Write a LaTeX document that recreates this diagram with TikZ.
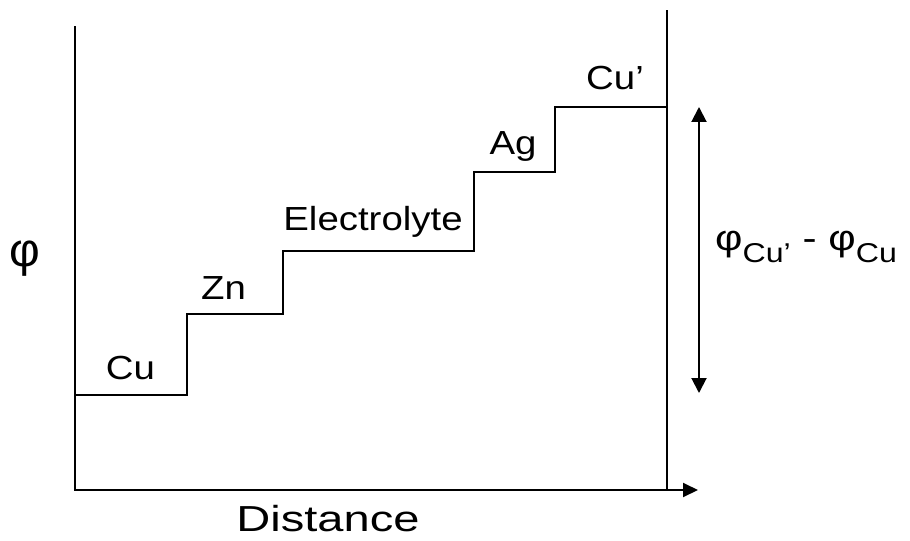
\documentclass[tikz,border=0pt]{standalone}
\usepackage{fontspec}
\setmainfont{Liberation Sans}
\usetikzlibrary{arrows.meta}
\tikzset{
  lvl/.style={anchor=base,inner sep=0pt,xscale=1.15,font=\fontsize{19}{22}\selectfont},
  tip/.style={-{Triangle[length=3mm,width=2.8mm]}},
  both/.style={{Triangle[length=3mm,width=3mm]}-{Triangle[length=3mm,width=3mm]}}
}
\begin{document}
\begin{tikzpicture}[x=0.02cm,y=-0.02cm,line width=1.13pt]
\useasboundingbox (0,0) rectangle (910,541);
\draw[tip] (75,26) -- (75,490) -- (698,490);
\draw (667,10) -- (667,490);
\draw (75,395) -- (187,395) -- (187,314) -- (283,314) -- (283,251)
  -- (474,251) -- (474,172) -- (555,172) -- (555,107) -- (667,107);
\coordinate (top) at (699,107);
\coordinate (bot) at (699,393);
\draw[both] (top) -- (bot);

\node[lvl] (cu) at (130.5,379) {Cu};
\node[lvl] (zn) at (223.5,299) {Zn};
\node[lvl] (el) at (373,230) {Electrolyte};
\node[lvl] (ag) at (513,154) {Ag};
\node[lvl] (cup) at (615,89) {Cu’};

\node[anchor=base,inner sep=0pt,xscale=1.0,font=\fontsize{27}{30}\selectfont] (phi) at (25,266) {φ};
\node[anchor=base west,inner sep=0pt,xscale=1.18,font=\fontsize{20.4}{24}\selectfont] (dphi) at (714,250)
  {φ\raisebox{-7pt}{\fontsize{15.5}{18}\selectfont Cu’} - φ\raisebox{-7pt}{\fontsize{15.5}{18}\selectfont Cu}};
\node[anchor=base,inner sep=0pt,xscale=1.3,font=\fontsize{20.6}{24}\selectfont] (dist) at (328,531) {Distance};
\end{tikzpicture}
\end{document}
